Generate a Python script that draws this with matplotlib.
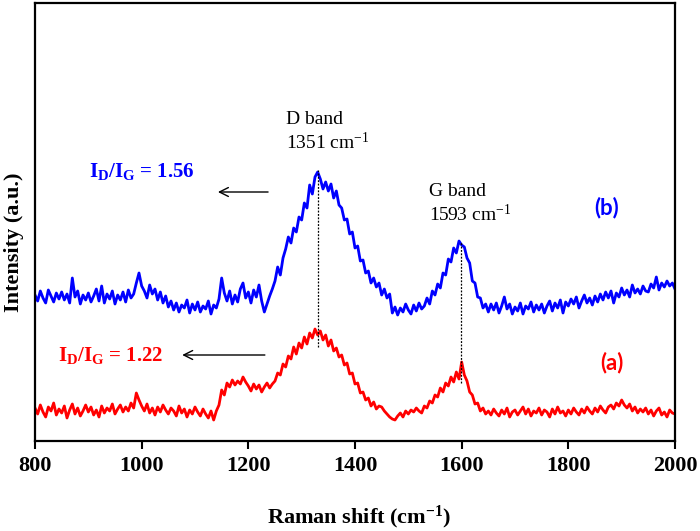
import numpy as np
import matplotlib
matplotlib.use("Agg")
import matplotlib.pyplot as plt

plt.rcParams['font.family'] = ['Liberation Serif', 'DejaVu Serif']
plt.rcParams['mathtext.fontset'] = 'custom'
plt.rcParams['mathtext.rm'] = 'Liberation Serif'
plt.rcParams['mathtext.it'] = 'Liberation Serif:italic'
plt.rcParams['mathtext.bf'] = 'Liberation Serif:bold'

# ---- data (Raman shift step 5 cm-1, intensity in a.u.) ----
raman_start, raman_stop, raman_step = 800, 2000, 5

intensity_b = [
    146, 140, 150, 143, 138, 151, 145, 139, 148, 142,
    149, 141, 147, 138, 163, 144, 150, 137, 146, 141,
    148, 139, 145, 152, 140, 155, 138, 147, 142, 150,
    137, 146, 141, 149, 139, 151, 143, 147, 158, 168,
    155, 150, 143, 156, 147, 152, 141, 149, 138, 145,
    134, 140, 131, 138, 129, 136, 133, 141, 128, 137,
    131, 139, 129, 135, 132, 140, 127, 136, 133, 142,
    163, 148, 140, 150, 137, 146, 139, 152, 158, 143,
    149, 138, 151, 144, 156, 140, 129, 137, 145, 152,
    160, 174, 166, 183, 192, 204, 198, 213, 209, 224,
    221, 238, 233, 256, 247, 264, 269, 262, 252, 259,
    250, 257, 243, 250, 236, 233, 221, 222, 207, 209,
    193, 195, 180, 181, 168, 170, 158, 163, 154, 158,
    146, 152, 143, 147, 128, 134, 126, 133, 129, 137,
    131, 127, 136, 130, 138, 132, 135, 143, 137, 150,
    146, 157, 153, 168, 166, 182, 179, 193, 188, 200,
    196, 194, 183, 178, 160, 158, 144, 143, 133, 137,
    129, 137, 131, 138, 128, 135, 144, 132, 137, 127,
    134, 130, 138, 127, 135, 132, 139, 129, 136, 131,
    137, 128, 135, 140, 130, 138, 133, 141, 128, 139,
    135, 142, 137, 144, 133, 140, 146, 138, 143, 136,
    145, 139, 147, 141, 149, 143, 150, 138, 148, 144,
    153, 146, 151, 144, 156, 148, 152, 147, 155, 150,
    149, 157, 153, 164, 151, 158, 154, 160, 155, 158,
    152,
]

intensity_a = [
    33, 27, 36, 29, 24, 34, 30, 38, 26, 32,
    28, 35, 23, 31, 37, 27, 33, 25, 30, 36,
    29, 34, 26, 31, 24, 35, 28, 33, 30, 37,
    27, 32, 36, 29, 34, 30, 38, 33, 48, 41,
    35, 30, 37, 28, 33, 26, 34, 29, 36, 31,
    27, 33, 30, 25, 35, 28, 32, 24, 31, 27,
    34, 29, 25, 32, 27, 23, 30, 21, 30, 36,
    51, 46, 58, 54, 61, 56, 60, 57, 64, 59,
    55, 50, 57, 52, 56, 49, 54, 58, 53, 57,
    60, 68, 66, 77, 74, 85, 82, 94, 87, 98,
    93, 104, 97, 108, 103, 112, 106, 110, 101, 106,
    95, 101, 90, 93, 84, 86, 76, 78, 67, 68,
    57, 58, 48, 49, 41, 43, 35, 39, 32, 35,
    34, 30, 27, 24, 22, 21, 25, 28, 24, 30,
    27, 31, 29, 33, 30, 28, 35, 33, 40, 38,
    46, 44, 53, 49, 58, 55, 64, 59, 69, 62,
    79, 66, 60, 49, 46, 37, 38, 30, 33, 27,
    30, 26, 32, 28, 25, 31, 27, 33, 24, 29,
    31, 26, 30, 34, 27, 32, 25, 30, 28, 33,
    26, 31, 29, 24, 32, 27, 34, 28, 30, 25,
    31, 27, 33, 29, 26, 32, 28, 34, 30, 27,
    33, 29, 35, 31, 28, 34, 36, 32, 38, 35,
    41, 36, 33, 37, 30, 34, 28, 32, 29, 33,
    27, 31, 25, 30, 33, 26, 29, 24, 31, 28,
    27,
]

x_ticks = [800, 1000, 1200, 1400, 1600, 1800, 2000]
d_line_x, d_line_y = 1331, (94, 271)
g_line_x, g_line_y = 1599, (58, 199)

raman = np.arange(raman_start, raman_stop + 1, raman_step)

fig = plt.figure(figsize=(7.0, 5.31), dpi=100)
ax = fig.add_axes([35/700, 1 - 441/531, 640/700, 438/531])

ax.plot(raman, intensity_b, color='#0000FF', lw=2.0)
ax.plot(raman, intensity_a, color='#FF0000', lw=2.0)

ax.plot([d_line_x, d_line_x], d_line_y, color='black', lw=0.9, ls=(0, (1.5, 1.2)))
ax.plot([g_line_x, g_line_x], g_line_y, color='black', lw=0.9, ls=(0, (1.5, 1.2)))

ax.set_xlim(800, 2000)
ax.set_ylim(0, 438)
ax.set_xticks(x_ticks)
ax.set_xticklabels([str(t) for t in x_ticks], fontsize=16, fontweight='bold')
ax.set_yticks([])
ax.tick_params(axis='x', direction='out', length=6, width=1.5, pad=5)
for s in ax.spines.values():
    s.set_linewidth(1.6)
    s.set_color('black')

# annotations
ax.text(1270, 321, 'D band', fontsize=14, va='center', ha='left')
ax.text(1270, 299, '1351 cm$^{-1}$', fontsize=14, va='center', ha='left')
ax.text(1538, 250, 'G band', fontsize=14, va='center', ha='left')
ax.text(1538, 227, '1593 cm$^{-1}$', fontsize=14, va='center', ha='left')

ax.text(901, 269, r'$\mathbf{I_D/I_G}$ = 1.56', fontsize=15, fontweight='bold',
        color='#0000FF', va='center', ha='left')
ax.text(843, 86, r'$\mathbf{I_D/I_G}$ = 1.22', fontsize=15, fontweight='bold',
        color='#FF0000', va='center', ha='left')

ax.annotate('', xy=(1143, 249), xytext=(1237, 249),
            arrowprops=dict(arrowstyle='->', lw=1.0, color='black', mutation_scale=16,
                            shrinkA=0, shrinkB=0))
ax.annotate('', xy=(1076, 86), xytext=(1231, 86),
            arrowprops=dict(arrowstyle='->', lw=1.0, color='black', mutation_scale=16,
                            shrinkA=0, shrinkB=0))

ax.text(1872, 233, '(b)', fontsize=16, color='#0000FF', fontweight='bold',
        family=['Lato', 'DejaVu Sans'], va='center', ha='center')
ax.text(1882, 78, '(a)', fontsize=16, color='#FF0000', fontweight='bold',
        family=['Lato', 'DejaVu Sans'], va='center', ha='center')

fig.text(359.5/700, 1 - 517/531, r'Raman shift (cm$\mathbf{^{-1}}$)', fontsize=16,
         fontweight='bold', ha='center', va='center')
fig.text(14/700, 1 - 242/531, 'Intensity (a.u.)', fontsize=16, fontweight='bold',
         rotation=90, ha='center', va='center')

fig.savefig('out.png', dpi=100)
